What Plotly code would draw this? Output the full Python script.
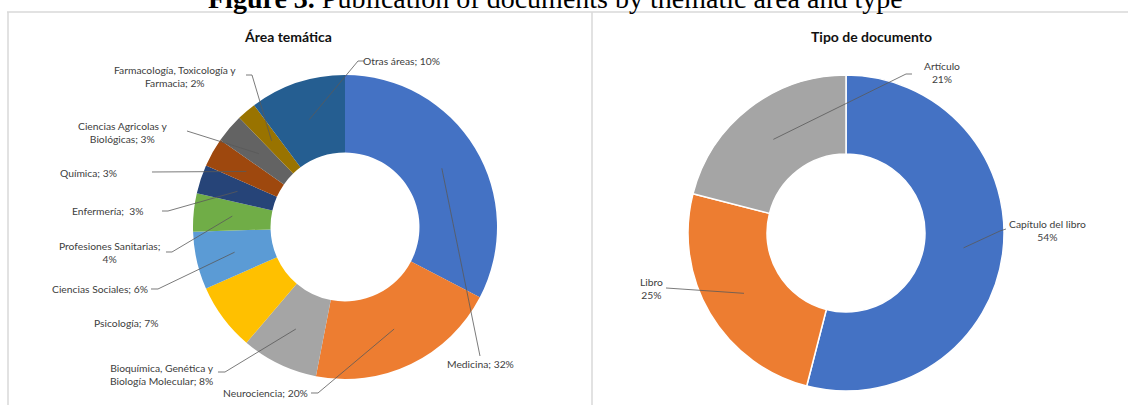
import math
import plotly.graph_objects as go

W, H = 1128, 405

# ---------------- data ----------------
area_names = ["Medicina", "Neurociencia", "Bioquímica, Genética y<br>Biología Molecular",
              "Psicología", "Ciencias Sociales", "Profesiones Sanitarias", "Enfermería",
              "Química", "Ciencias Agricolas y<br>Biológicas",
              "Farmacología, Toxicología y<br>Farmacia", "Otras áreas"]
area_values = [32, 20, 8, 7, 6, 4, 3, 3, 3, 2, 10]
area_seps = ["; ", "; ", "; ", "; ", "; ", ";<br>", ";  ", "; ", "; ", "; ", "; "]
area_colors = ["#4472C4", "#ED7D31", "#A5A5A5", "#FFC000", "#5B9BD5", "#70AD47",
               "#264478", "#9E480E", "#636363", "#997300", "#255E91"]

doc_names = ["Capítulo del libro", "Libro", "Artículo"]
doc_values = [54, 25, 21]
doc_colors = ["#4472C4", "#ED7D31", "#A5A5A5"]

# ---------------- layout constants (pixels) ----------------
L_CX, L_CY, L_R, L_HOLE = 345, 227, 152, 0.49
R_CX, R_CY, R_R, R_HOLE = 846, 233, 158, 0.50

# label placement: (text x, text y, leader-line start points)
area_label_pos = [
    (480, 364, [(480, 356)]),
    (265, 393, [(311, 393), (318, 393)]),
    (162, 374, [(218, 372), (225, 372)]),
    (126, 323, []),
    (100, 289, [(151, 289), (158, 289)]),
    (109, 252, [(166, 252), (172, 252)]),
    (108, 211, [(162, 211), (168, 211)]),
    (88, 173, [(152, 172)]),
    (122, 132, [(187, 131)]),
    (175, 76, [(246, 75), (252, 75)]),
    (401, 61, [(364, 61), (358, 61)]),
]
doc_label_pos = [
    (1047, 230, [(1006, 229), (1000, 231)]),
    (651, 288, [(666, 288)]),
    (942, 72, [(912, 74), (906, 74)]),
]


def px(x):
    return x / W


def py(y):
    return 1 - y / H


fig = go.Figure()

fig.add_trace(go.Pie(
    labels=[n.replace("<br>", " ") for n in area_names], values=area_values,
    marker=dict(colors=area_colors, line=dict(width=0)),
    hole=L_HOLE, sort=False, direction="clockwise", rotation=0,
    textinfo="none", showlegend=False,
    domain=dict(x=[px(L_CX - L_R), px(L_CX + L_R)], y=[py(L_CY + L_R), py(L_CY - L_R)]),
))
fig.add_trace(go.Pie(
    labels=doc_names, values=doc_values,
    marker=dict(colors=doc_colors, line=dict(color="white", width=1.5)),
    hole=R_HOLE, sort=False, direction="clockwise", rotation=0,
    textinfo="none", showlegend=False,
    domain=dict(x=[px(R_CX - R_R), px(R_CX + R_R)], y=[py(R_CY + R_R), py(R_CY - R_R)]),
))

shapes = []
annotations = []
LABEL_FONT = dict(family="Lato, Open Sans, sans-serif", size=10.3, color="#404040")
LINE = dict(color="#595959", width=0.8)


def add_labels(values, texts, positions, cx, cy, r, hole):
    total = sum(values)
    rmid = r * (1 + hole) / 2
    cum = 0
    for v, t, (tx, ty, starts) in zip(values, texts, positions):
        frac = (cum + v / 2) / total
        cum += v
        ang = 2 * math.pi * frac
        ax_ = cx + rmid * math.sin(ang)
        ay_ = cy - rmid * math.cos(ang)
        annotations.append(dict(x=px(tx), y=py(ty), xref="paper", yref="paper",
                                text=t, showarrow=False, font=LABEL_FONT,
                                xanchor="center", yanchor="middle", align="center"))
        if starts:
            pts = starts + [(ax_, ay_)]
            path = "M " + " L ".join(f"{px(a):.5f},{py(b):.5f}" for a, b in pts)
            shapes.append(dict(type="path", path=path, xref="paper", yref="paper", line=LINE))


area_texts = [f"{n}{s}{v}%" for n, s, v in zip(area_names, area_seps, area_values)]
doc_texts = [f"{n}<br>{v}%" for n, v in zip(doc_names, doc_values)]
add_labels(area_values, area_texts, area_label_pos, L_CX, L_CY, L_R, L_HOLE)
add_labels(doc_values, doc_texts, doc_label_pos, R_CX, R_CY, R_R, R_HOLE)

# frame lines
FRAME = dict(color="#D9D9D9", width=1.5)
shapes += [
    dict(type="line", xref="paper", yref="paper", x0=px(7), x1=px(W), y0=py(12), y1=py(12), line=FRAME),
    dict(type="line", xref="paper", yref="paper", x0=px(8), x1=px(8), y0=py(12), y1=py(H + 5), line=FRAME),
    dict(type="line", xref="paper", yref="paper", x0=px(592), x1=px(592), y0=py(12), y1=py(H + 5), line=FRAME),
]

# titles
TITLE_FONT = dict(family="Lato, Open Sans, sans-serif", size=14, color="#111111")
annotations += [
    dict(x=px(288), y=py(36), xref="paper", yref="paper", text="<b>Área temática</b>",
         showarrow=False, font=TITLE_FONT, xanchor="center", yanchor="middle"),
    dict(x=px(871), y=py(36), xref="paper", yref="paper", text="<b>Tipo de documento</b>",
         showarrow=False, font=TITLE_FONT, xanchor="center", yanchor="middle"),
    dict(x=px(555), y=py(-2), xref="paper", yref="paper",
         text="<b>Figure 3.</b> Publication of documents by thematic area and type",
         showarrow=False, font=dict(family="Liberation Serif, Times New Roman, serif", size=28, color="black"),
         xanchor="center", yanchor="middle"),
]

fig.update_layout(
    width=W, height=H, margin=dict(l=0, r=0, t=0, b=0),
    paper_bgcolor="white", plot_bgcolor="white",
    shapes=shapes, annotations=annotations,
)

fig.write_html("out.html", config={"displayModeBar": False},
               post_script="document.body.style.margin='0';document.body.style.overflow='hidden';")
